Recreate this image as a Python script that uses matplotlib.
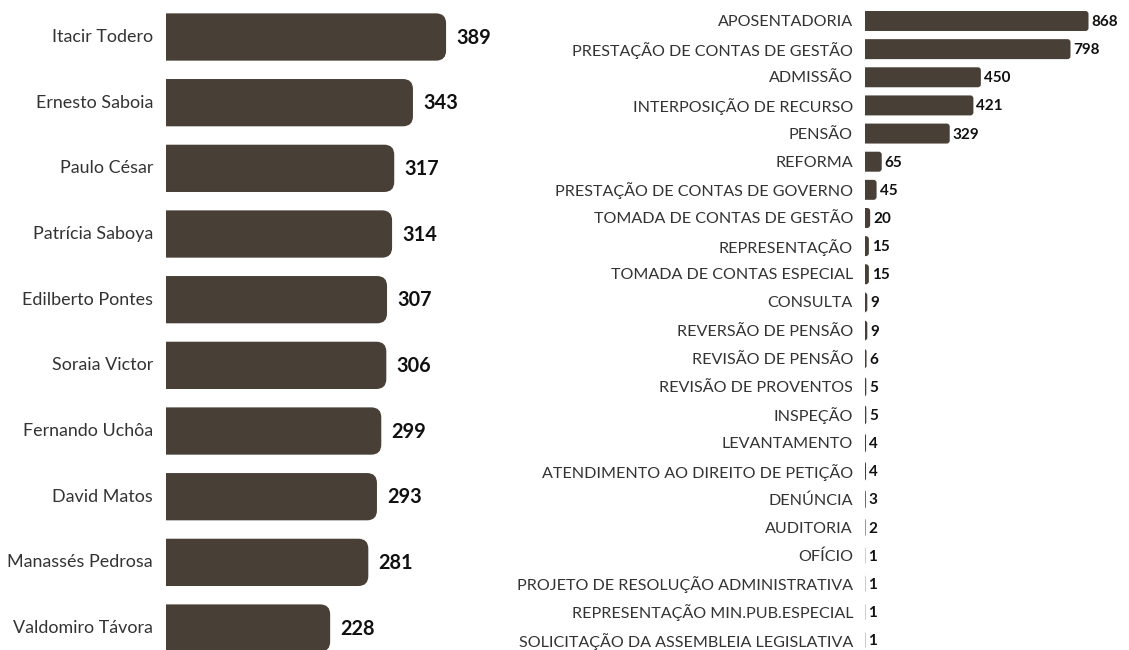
import matplotlib
matplotlib.use("Agg")
import matplotlib.pyplot as plt
from matplotlib.patches import FancyBboxPatch

plt.rcParams['font.family'] = ['Lato', 'DejaVu Sans']

# ---- data ----
names = ["Itacir Todero", "Ernesto Saboia", "Paulo César", "Patrícia Saboya",
         "Edilberto Pontes", "Soraia Victor", "Fernando Uchôa", "David Matos",
         "Manassés Pedrosa", "Valdomiro Távora"]
name_values = [389, 343, 317, 314, 307, 306, 299, 293, 281, 228]

categories = ["APOSENTADORIA", "PRESTAÇÃO DE CONTAS DE GESTÃO", "ADMISSÃO",
              "INTERPOSIÇÃO DE RECURSO", "PENSÃO", "REFORMA",
              "PRESTAÇÃO DE CONTAS DE GOVERNO", "TOMADA DE CONTAS DE GESTÃO",
              "REPRESENTAÇÃO", "TOMADA DE CONTAS ESPECIAL", "CONSULTA",
              "REVERSÃO DE PENSÃO", "REVISÃO DE PENSÃO", "REVISÃO DE PROVENTOS",
              "INSPEÇÃO", "LEVANTAMENTO", "ATENDIMENTO AO DIREITO DE PETIÇÃO",
              "DENÚNCIA", "AUDITORIA", "OFÍCIO",
              "PROJETO DE RESOLUÇÃO ADMINISTRATIVA",
              "REPRESENTAÇÃO MIN.PUB.ESPECIAL",
              "SOLICITAÇÃO DA ASSEMBLEIA LEGISLATIVA"]
category_values = [868, 798, 450, 421, 329, 65, 45, 20, 15, 15, 9, 9, 6, 5, 5,
                   4, 4, 3, 2, 1, 1, 1, 1]

BAR = "#483f37"
W, H = 1129, 650
fig = plt.figure(figsize=(W / 100, H / 100), dpi=100)


def panel(left_px, width_px, xmax, labels, values, first_px, step_px,
          bar_frac, radius_px, label_size, value_size, label_pad, value_pad,
          text_dy):
    ax = fig.add_axes([left_px / W, 0, width_px / W, 1])
    ax.set_xlim(0, xmax)
    y_top = -first_px / step_px
    y_bot = (H - first_px) / step_px
    ax.set_ylim(y_bot, y_top)
    ax.axis("off")
    px_per_x = width_px / xmax
    px_per_y = step_px
    aspect = px_per_x / px_per_y
    r = radius_px / px_per_x
    for i, (lab, v) in enumerate(zip(labels, values)):
        h = bar_frac
        p = FancyBboxPatch((-3 * r, i - h / 2), v + 3 * r, h,
                           boxstyle=f"round,pad=0,rounding_size={r}",
                           mutation_aspect=aspect, fc=BAR, ec="none",
                           clip_on=True)
        ax.add_patch(p)
        ax.annotate(lab, (0, i), xytext=(-label_pad, text_dy),
                    textcoords="offset pixels", ha="right",
                    va="center_baseline",
                    fontsize=label_size, color="#333333", annotation_clip=False)
        ax.annotate(str(v), (v, i), xytext=(value_pad, text_dy),
                    textcoords="offset pixels", ha="left",
                    va="center_baseline",
                    fontsize=value_size, color="#111111", fontweight="bold",
                    annotation_clip=False)
    return ax


panel(166, 324, 450, names, name_values, 37, 65.67, 0.72, 10,
      12.9, 14.3, 13, 10, 1.5)
panel(865, 257.5, 1000, categories, category_values, 21, 28.14, 0.71, 3,
      11.6, 11, 12, 3, 0.5)

fig.savefig("out.png", dpi=100)
